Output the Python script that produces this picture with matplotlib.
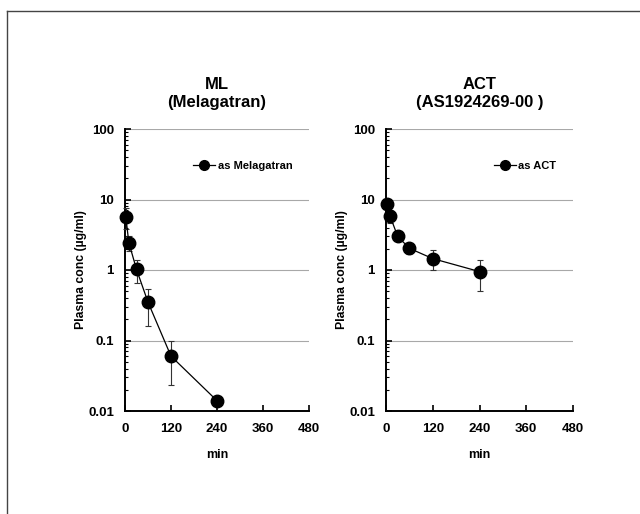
import matplotlib.pyplot as plt
from matplotlib.lines import Line2D
from matplotlib.ticker import LogLocator, NullFormatter, FixedLocator

# -------------------------------------------------------------------
# Data
# -------------------------------------------------------------------
time_min = [2, 10, 30, 60, 120, 240]

ml_conc = [5.7, 2.45, 1.02, 0.35, 0.06, 0.014]
ml_sd = [1.9, 0.62, 0.37, 0.19, 0.037, 0.0]

act_conc = [8.5, 5.9, 3.0, 2.03, 1.45, 0.95]
act_sd = [1.2, 1.2, 0.3, 0.33, 0.46, 0.45]

titles = ["ML\n(Melagatran)", "ACT\n(AS1924269-00 )"]
legend_labels = ["as Melagatran", "as ACT"]
x_ticks = [0, 120, 240, 360, 480]
y_ticks = [0.01, 0.1, 1, 10, 100]
y_tick_labels = ["0.01", "0.1", "1", "10", "100"]

plt.rcParams["font.family"] = ["Liberation Sans", "DejaVu Sans"]
plt.rcParams["font.weight"] = "bold"

fig = plt.figure(figsize=(6.4, 5.14), dpi=100)

# border lines (top + left) like the scanned frame
fig.add_artist(Line2D([7 / 640, 1.0], [1 - 11 / 514, 1 - 11 / 514],
                      color="#444444", lw=1.0, transform=fig.transFigure))
fig.add_artist(Line2D([7 / 640, 7 / 640], [0.0, 1 - 11 / 514],
                      color="#444444", lw=1.0, transform=fig.transFigure))

positions = [
    [125 / 640, 103 / 514, 184 / 640, 282 / 514],
    [386 / 640, 103 / 514, 187 / 640, 282 / 514],
]
series = [(ml_conc, ml_sd), (act_conc, act_sd)]

for pos, (conc, sd), title, lab in zip(positions, series, titles, legend_labels):
    ax = fig.add_axes(pos)
    ax.set_yscale("log")
    ax.errorbar(time_min, conc, yerr=sd, fmt="-o", color="black",
                lw=0.9, ms=9, ecolor="#333333", elinewidth=0.8,
                capsize=2.5, capthick=0.8, clip_on=False, zorder=3)
    ax.set_xlim(0, 480)
    ax.set_ylim(0.01, 100)

    ax.yaxis.set_major_locator(FixedLocator(y_ticks))
    ax.set_yticklabels(y_tick_labels)
    ax.yaxis.set_minor_locator(LogLocator(base=10, subs=range(2, 10)))
    ax.yaxis.set_minor_formatter(NullFormatter())
    ax.set_xticks(x_ticks)

    ax.tick_params(axis="both", which="major", direction="in", length=4,
                   width=1.2, labelsize=9.5)
    ax.tick_params(axis="y", which="major", pad=8)
    ax.tick_params(axis="x", which="major", pad=9)
    ax.tick_params(axis="y", which="minor", direction="in", length=2, width=0.8)
    for t in ax.get_xticklabels() + ax.get_yticklabels():
        t.set_fontweight("bold")

    for v in [0.1, 1, 10, 100]:
        ax.axhline(v, color="#a8a8a8", lw=0.8, zorder=1)

    for s in ["top", "right"]:
        ax.spines[s].set_visible(False)
    for s in ["left", "bottom"]:
        ax.spines[s].set_linewidth(1.4)

    ax.set_xlabel("min", fontsize=9, fontweight="bold", labelpad=10)
    ax.set_ylabel("Plasma conc (µg/ml)", fontsize=8.8, fontweight="bold", labelpad=1)
    ax.set_title(title, fontsize=12, fontweight="bold", pad=16, linespacing=1.2)

    handle = Line2D([], [], color="black", lw=0.9, marker="o", ms=7)
    leg = ax.legend([handle], [lab], loc="center right",
                    bbox_to_anchor=(0.91, 0.869), frameon=False,
                    fontsize=8, handlelength=2.0, handletextpad=0.2,
                    borderaxespad=0, borderpad=0)
    for t in leg.get_texts():
        t.set_fontweight("bold")

fig.savefig("out.png", dpi=100)
